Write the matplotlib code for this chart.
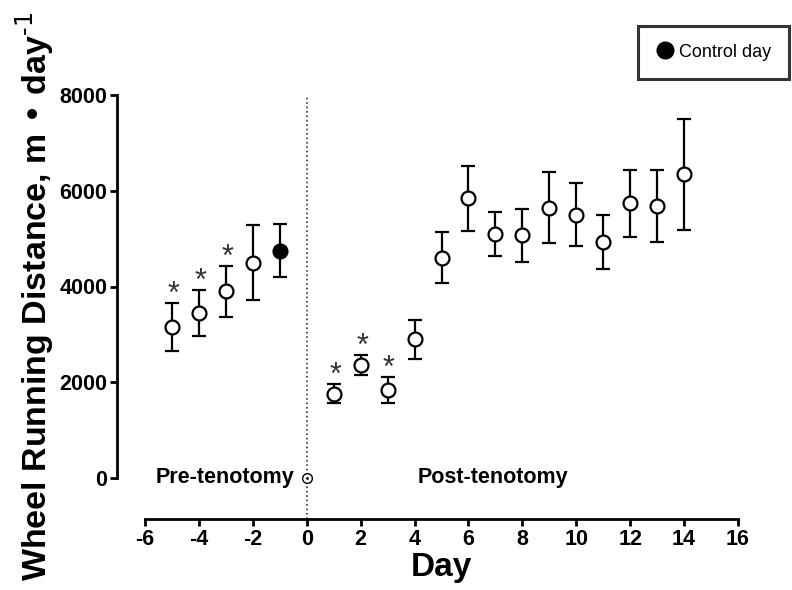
import matplotlib
matplotlib.use("Agg")
import matplotlib.pyplot as plt
from matplotlib.lines import Line2D

plt.rcParams['font.family'] = ['Liberation Sans', 'DejaVu Sans']
plt.rcParams['axes.unicode_minus'] = False

# pre-tenotomy days (open circles), control day filled
pre_days = [-5, -4, -3, -2]
pre_mean = [3150, 3450, 3900, 4500]
pre_err = [500, 480, 530, 790]
ctrl_day = [-1]
ctrl_mean = [4750]
ctrl_err = [560]

# post-tenotomy days
post_days = [1, 2, 3, 4, 5, 6, 7, 8, 9, 10, 11, 12, 13, 14]
post_mean = [1760, 2360, 1840, 2900, 4600, 5840, 5090, 5070, 5650, 5500, 4930, 5740, 5680, 6340]
post_err = [200, 200, 280, 410, 530, 680, 460, 550, 750, 660, 560, 700, 750, 1160]

star_days = [-5, -4, -3, 1, 2, 3]

fig = plt.figure(figsize=(7.92, 5.90), dpi=100)
ax = fig.add_axes([145 / 792, 1 - 478 / 590, (738 - 145) / 792, (478 - 95) / 590])

eb = dict(fmt='o', color='black', ecolor='black', elinewidth=1.6, capsize=5,
          capthick=1.6, markersize=10, markeredgewidth=1.6, clip_on=False, zorder=3)
ax.errorbar(pre_days, pre_mean, yerr=pre_err, markerfacecolor='white', **eb)
ax.errorbar(post_days, post_mean, yerr=post_err, markerfacecolor='white', **eb)
ax.errorbar(ctrl_day, ctrl_mean, yerr=ctrl_err, markerfacecolor='black', **eb)

# significance stars
all_days = pre_days + post_days
all_top = [m + e for m, e in zip(pre_mean + post_mean, pre_err + post_err)]
for d in star_days:
    i = all_days.index(d)
    ax.annotate('*', (d, all_top[i]), xytext=(1, -5), textcoords='offset points',
                ha='center', va='bottom', fontsize=22, color='#333333')

# day 0 marker
ax.plot([0], [0], 'o', markerfacecolor='white', markeredgecolor='black',
        markersize=7, markeredgewidth=1, clip_on=False, zorder=4)
ax.plot([0], [0], '.', color='black', markersize=2, clip_on=False, zorder=5)

# tenotomy line
ax.axvline(0, ymin=-0.107, ymax=1, color='#333333', linestyle=':', linewidth=1.2,
           clip_on=False, zorder=1)

ax.text(-0.45, 0, 'Pre-tenotomy', ha='right', va='center', fontsize=15.5, fontweight='bold')
ax.text(6.9, 0, 'Post-tenotomy', ha='center', va='center', fontsize=15.5, fontweight='bold')

ax.set_xlim(-6, 16)
ax.set_ylim(0, 8000)
ax.set_xticks(range(-6, 17, 2))
ax.set_yticks(range(0, 8001, 2000))

for s in ['top', 'right']:
    ax.spines[s].set_visible(False)
ax.spines['left'].set_position(('outward', 20))
ax.spines['bottom'].set_position(('outward', 29.5))
for s in ['left', 'bottom']:
    ax.spines[s].set_linewidth(2)
ax.tick_params(width=2, length=5, labelsize=15.5, pad=2)
for lab in ax.get_xticklabels() + ax.get_yticklabels():
    lab.set_fontweight('bold')

ax.set_xlabel('Day', fontsize=24, fontweight='bold', labelpad=2)
ax.set_ylabel('Wheel Running Distance, m \u2022 day$^{\\text{-1}}$', fontsize=24.5,
              fontweight='bold')
ax.yaxis.set_label_coords(-0.15, 0.475)

handle = Line2D([], [], marker='o', color='black', linestyle='none', markersize=12)
leg = fig.legend([handle], ['Control day'], loc='upper right',
                 bbox_to_anchor=(1.008, 0.972), fontsize=13, frameon=True,
                 fancybox=False, handletextpad=0.3, borderpad=1.0, handlelength=1.0)
leg.get_frame().set_edgecolor('black')
leg.get_frame().set_linewidth(2.2)

fig.savefig('out.png', dpi=100)
